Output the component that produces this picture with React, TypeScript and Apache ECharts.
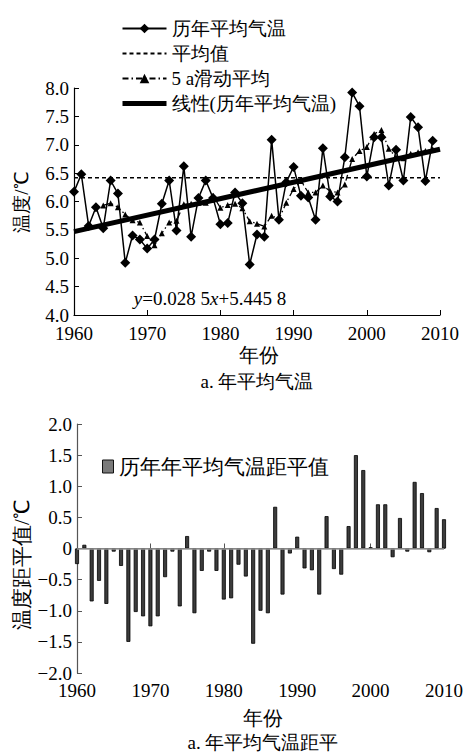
import React, { useEffect, useRef } from "react";
import * as echarts from "echarts";

const startYear = 1960;
const tickYears = [1960, 1970, 1980, 1990, 2000, 2010];
const temps = [6.17, 6.48, 5.57, 5.9, 5.53, 6.37, 6.14, 4.92, 5.4, 5.33, 5.17, 5.33, 5.96, 6.37, 5.49, 6.62, 5.38, 6.06, 6.37, 6.06, 5.6, 5.62, 6.16, 5.97, 4.89, 5.42, 5.38, 7.09, 5.68, 6.34, 6.61, 6.1, 6.07, 5.68, 6.94, 6.09, 6.0, 6.78, 7.92, 7.68, 6.44, 7.13, 7.13, 6.28, 6.91, 6.37, 7.49, 7.31, 6.36, 7.07];
const maStartYear = 1964;
const movingAvg = [5.93, 5.97, 5.9, 5.77, 5.67, 5.63, 5.39, 5.23, 5.44, 5.63, 5.66, 5.95, 5.96, 5.98, 5.98, 6.1, 5.89, 5.94, 5.96, 5.88, 5.65, 5.61, 5.56, 5.75, 5.69, 5.98, 6.22, 6.36, 6.16, 6.16, 6.28, 6.18, 6.16, 6.3, 6.75, 6.89, 6.96, 7.19, 7.26, 6.93, 6.78, 6.76, 6.84, 6.87, 6.89, 6.92];
const meanValue = 6.42;
const trendEnds = [[1960, 5.47], [2010, 6.92]];
const anomalies = [-0.25, 0.06, -0.85, -0.52, -0.89, -0.05, -0.28, -1.5, -1.02, -1.09, -1.25, -1.09, -0.46, -0.05, -0.93, 0.2, -1.04, -0.36, -0.05, -0.36, -0.82, -0.8, -0.26, -0.45, -1.53, -1.0, -1.04, 0.67, -0.74, -0.08, 0.19, -0.32, -0.35, -0.74, 0.52, -0.33, -0.42, 0.36, 1.5, 1.26, 0.02, 0.71, 0.71, -0.14, 0.49, -0.05, 1.07, 0.89, -0.06, 0.65, 0.47];

const FONT = "serif";
const N1 = "历年平均气温";
const N2 = "平均值";
const N3 = "5 a滑动平均";
const N4 = "线性(历年平均气温)";
const N5 = "历年年平均气温距平值";

export default function App() {
  const ref = useRef<HTMLDivElement>(null);
  useEffect(() => {
    document.body.style.margin = "0";
    const chart = echarts.init(ref.current!, null, { renderer: "svg" });
    const tempData = temps.map((v, i) => [startYear + i, v]);
    const maData = movingAvg.map((v, i) => [maStartYear + i, v]);
    const anomData = anomalies.map((v, i) => [startYear + i, v]);
    const xAxisBase = (gridIndex: number, color: string, margin: number) => ({
      type: "value",
      gridIndex,
      min: tickYears[0],
      max: tickYears[tickYears.length - 1],
      interval: 10,
      axisLine: { lineStyle: { color, width: 1.2 } },
      axisTick: { inside: true, length: 5, lineStyle: { color } },
      splitLine: { show: false },
      axisLabel: { color: "#000", fontSize: 19, fontFamily: FONT, margin, formatter: (v: number) => String(v) },
    });
    const hiddenSymbol = { color: "rgba(0,0,0,0)", borderWidth: 0, opacity: 0 };
    const option: any = {
      animation: false,
      backgroundColor: "#fff",
      textStyle: { fontFamily: FONT },
      grid: [
        { left: 74, top: 88, width: 366, height: 227 },
        { left: 77, top: 424, width: 370, height: 249 },
      ],
      legend: [
        {
          orient: "vertical",
          left: 115,
          top: 14,
          itemWidth: 44,
          itemHeight: 12,
          itemGap: 6,
          textStyle: { fontSize: 19, fontFamily: FONT, color: "#000" },
          data: [
            { name: N1 },
            { name: N2, itemStyle: hiddenSymbol },
            { name: N3 },
            { name: N4, itemStyle: hiddenSymbol, lineStyle: { width: 5, color: "#000" } },
          ],
        },
        {
          left: 97,
          top: 451,
          itemWidth: 11,
          itemHeight: 13,
          textStyle: { fontSize: 21, fontFamily: FONT, color: "#000" },
          data: [{ name: N5, icon: "rect", itemStyle: { color: "#7a7a7a", borderColor: "#111", borderWidth: 1 } }],
        },
      ],
      xAxis: [xAxisBase(0, "#000", 9), xAxisBase(1, "#555", 8)],
      yAxis: [
        {
          type: "value",
          gridIndex: 0,
          min: 4,
          max: 8,
          interval: 0.5,
          axisLine: { show: true, lineStyle: { color: "#000", width: 1.2 } },
          axisTick: { show: true, inside: true, length: 5, lineStyle: { color: "#000" } },
          splitLine: { show: false },
          axisLabel: { color: "#000", fontSize: 19, fontFamily: FONT, margin: 5, formatter: (v: number) => v.toFixed(1) },
        },
        {
          type: "value",
          gridIndex: 1,
          min: -2,
          max: 2,
          interval: 0.5,
          axisLine: { show: true, lineStyle: { color: "#555", width: 1.2 } },
          axisTick: { show: true, inside: true, length: 5, lineStyle: { color: "#555" } },
          splitLine: { show: false },
          axisLabel: {
            color: "#000",
            fontSize: 19,
            fontFamily: FONT,
            margin: 5,
            formatter: (v: number) => (Math.abs(v) < 1e-9 ? "0" : v < 0 ? "−" + Math.abs(v).toFixed(1) : v.toFixed(1)),
          },
        },
      ],
      series: [
        {
          name: N2,
          type: "line",
          xAxisIndex: 0,
          yAxisIndex: 0,
          data: [[tickYears[0], meanValue], [tickYears[tickYears.length - 1], meanValue]],
          symbol: "none",
          lineStyle: { color: "#000", width: 1.5, type: [4, 3] },
          itemStyle: { color: "#000" },
          z: 2,
        },
        {
          name: N4,
          type: "line",
          xAxisIndex: 0,
          yAxisIndex: 0,
          data: trendEnds,
          symbol: "none",
          lineStyle: { color: "#000", width: 5 },
          itemStyle: { color: "#000" },
          z: 3,
        },
        {
          name: N3,
          type: "line",
          xAxisIndex: 0,
          yAxisIndex: 0,
          data: maData,
          symbol: "triangle",
          symbolSize: 6,
          lineStyle: { color: "#000", width: 1.3, type: [6, 3, 1.5, 3] },
          itemStyle: { color: "#000" },
          z: 4,
        },
        {
          name: N1,
          type: "line",
          xAxisIndex: 0,
          yAxisIndex: 0,
          data: tempData,
          symbol: "diamond",
          symbolSize: 10,
          lineStyle: { color: "#000", width: 1.5 },
          itemStyle: { color: "#000" },
          z: 5,
        },
        {
          name: N5,
          type: "bar",
          xAxisIndex: 1,
          yAxisIndex: 1,
          data: anomData,
          barWidth: 4,
          itemStyle: { color: "#3c3c3c", borderColor: "#000", borderWidth: 0.8 },
          markLine: {
            silent: true,
            symbol: "none",
            label: { show: false },
            lineStyle: { color: "#999", width: 1.5, type: "solid" },
            data: [{ yAxis: 0 }],
          },
        },
      ],
      graphic: [
        {
          type: "text",
          x: 21,
          y: 202,
          rotation: Math.PI / 2,
          style: { text: "温度/℃", fontSize: 19, fontFamily: FONT, fill: "#000", align: "center", verticalAlign: "middle" },
        },
        {
          type: "text",
          x: 22,
          y: 565,
          rotation: Math.PI / 2,
          style: { text: "温度距平值/℃", fontSize: 21, fontFamily: FONT, fill: "#000", align: "center", verticalAlign: "middle" },
        },
        {
          type: "text",
          x: 210,
          y: 298,
          style: {
            text: "{i|y}=0.028 5{i|x}+5.445 8",
            fontSize: 19,
            fontFamily: FONT,
            fill: "#000",
            align: "center",
            verticalAlign: "middle",
            rich: { i: { fontStyle: "italic", fontSize: 19, fontFamily: FONT, fill: "#000" } },
          },
        },
        { type: "text", x: 259, y: 355, style: { text: "年份", fontSize: 20, fontFamily: FONT, fill: "#000", align: "center", verticalAlign: "middle" } },
        { type: "text", x: 257, y: 381, style: { text: "a. 年平均气温", fontSize: 19, fontFamily: FONT, fill: "#000", align: "center", verticalAlign: "middle" } },
        { type: "text", x: 263, y: 718, style: { text: "年份", fontSize: 20, fontFamily: FONT, fill: "#000", align: "center", verticalAlign: "middle" } },
        { type: "text", x: 263, y: 742, style: { text: "a. 年平均气温距平", fontSize: 19, fontFamily: FONT, fill: "#000", align: "center", verticalAlign: "middle" } },
      ],
    };
    chart.setOption(option);
    return () => chart.dispose();
  }, []);
  return <div ref={ref} style={{ width: 466, height: 754 }} />;
}
